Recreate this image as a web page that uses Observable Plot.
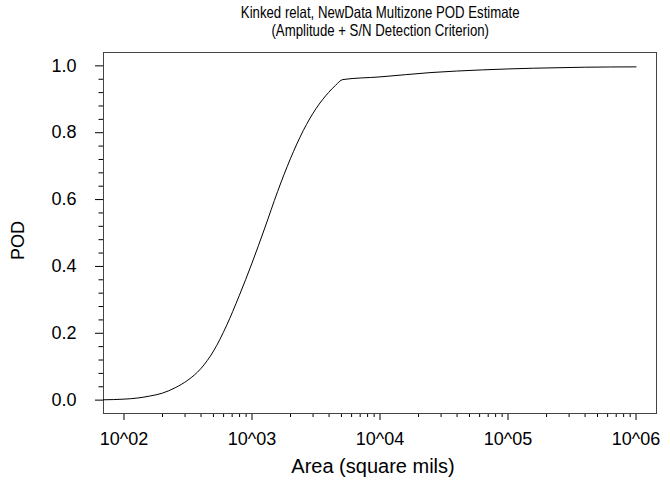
<!DOCTYPE html>
<html><head><meta charset="utf-8">
<script src="https://cdn.jsdelivr.net/npm/d3@7"></script>
<script src="https://cdn.jsdelivr.net/npm/@observablehq/plot@0.6"></script>
<style>
body{margin:0;background:#fff;font-family:"Liberation Sans",Arial,sans-serif;}
#title{width:670px;box-sizing:border-box;padding-left:90px;height:46px;padding-top:4px;text-align:center;font-size:16.5px;line-height:17.5px;color:#000;white-space:nowrap;}
#title span{display:inline-block;transform:scaleX(0.8);transform-origin:50% 50%;}
#chart svg{display:block;}
</style></head><body>
<div id="title"><span>Kinked relat, NewData Multizone POD Estimate<br>(Amplitude + S/N Detection Criterion)</span></div>
<div id="chart"></div>
<script>
// Curve
const area = [69, 100, 126, 158, 200, 251, 316, 398, 501, 631, 794, 1000, 1259, 1585, 1995, 2512, 3162, 3981, 4500, 5120, 10000, 25000, 63000, 158000, 398000, 1000000];
const pod  = [0.001, 0.003, 0.006, 0.012, 0.021, 0.037, 0.060, 0.094, 0.147, 0.222, 0.312, 0.410, 0.515, 0.624, 0.722, 0.806, 0.872, 0.921, 0.942, 0.959, 0.967, 0.980, 0.988, 0.993, 0.996, 0.997];

const xTicks = [100, 1000, 10000, 100000, 1000000];
const xTickLabels = ["10^02", "10^03", "10^04", "10^05", "10^06"];
const yTicks = [0, 0.2, 0.4, 0.6, 0.8, 1.0];
const yTickLabels = ["0.0", "0.2", "0.4", "0.6", "0.8", "1.0"];
const xLabel = "Area (square mils)";
const yLabel = "POD";

const data = area.map((a, i) => ({area: a, pod: pod[i]}));
const xLab = new Map(xTicks.map((t, i) => [t, xTickLabels[i]]));
const yLab = new Map(yTicks.map((t, i) => [t, yTickLabels[i]]));

const xMinor = [];
for (let k = 2; k <= 5; k++) for (let m = 2; m <= 9; m++) xMinor.push(m * Math.pow(10, k));
const yMinor = d3.range(1, 26).map(i => +(i * 0.04).toFixed(2)).filter(v => Math.abs(v * 5 - Math.round(v * 5)) > 1e-6);

const font = 18;
const chart = Plot.plot({
  width: 670,
  height: 437,
  marginTop: 6,
  marginLeft: 103,
  marginRight: 14,
  marginBottom: 70,
  style: {fontFamily: "'Liberation Sans', Arial, sans-serif", background: "#fff", color: "#000"},
  x: {type: "log", domain: [69.2, 1445000]},
  y: {domain: [-0.04, 1.04]},
  marks: [
    Plot.axisX({ticks: xMinor, tickSize: 4, tickFormat: () => "", label: null}),
    Plot.axisX({ticks: xTicks, tickSize: 7, tickPadding: 12, tickFormat: d => xLab.get(d), fontSize: font, label: null}),
    Plot.axisY({ticks: yMinor, tickSize: 4.5, tickFormat: () => "", label: null}),
    Plot.axisY({ticks: yTicks, tickSize: 8, tickPadding: 19, tickFormat: d => yLab.get(d), fontSize: font, label: null}),
    Plot.frame({stroke: "#444", strokeWidth: 1}),
    Plot.line(data, {x: "area", y: "pod", curve: "monotone-x", stroke: "#000", strokeWidth: 1}),
    Plot.text([xLabel], {text: d => d, frameAnchor: "bottom", dy: 59, dx: -7, lineAnchor: "bottom", fontSize: 20}),
    Plot.text([yLabel], {text: d => d, frameAnchor: "left", dx: -80, dy: 27, rotate: -90, lineAnchor: "bottom", fontSize: font})
  ]
});
document.getElementById("chart").appendChild(chart);
</script>
</body></html>
